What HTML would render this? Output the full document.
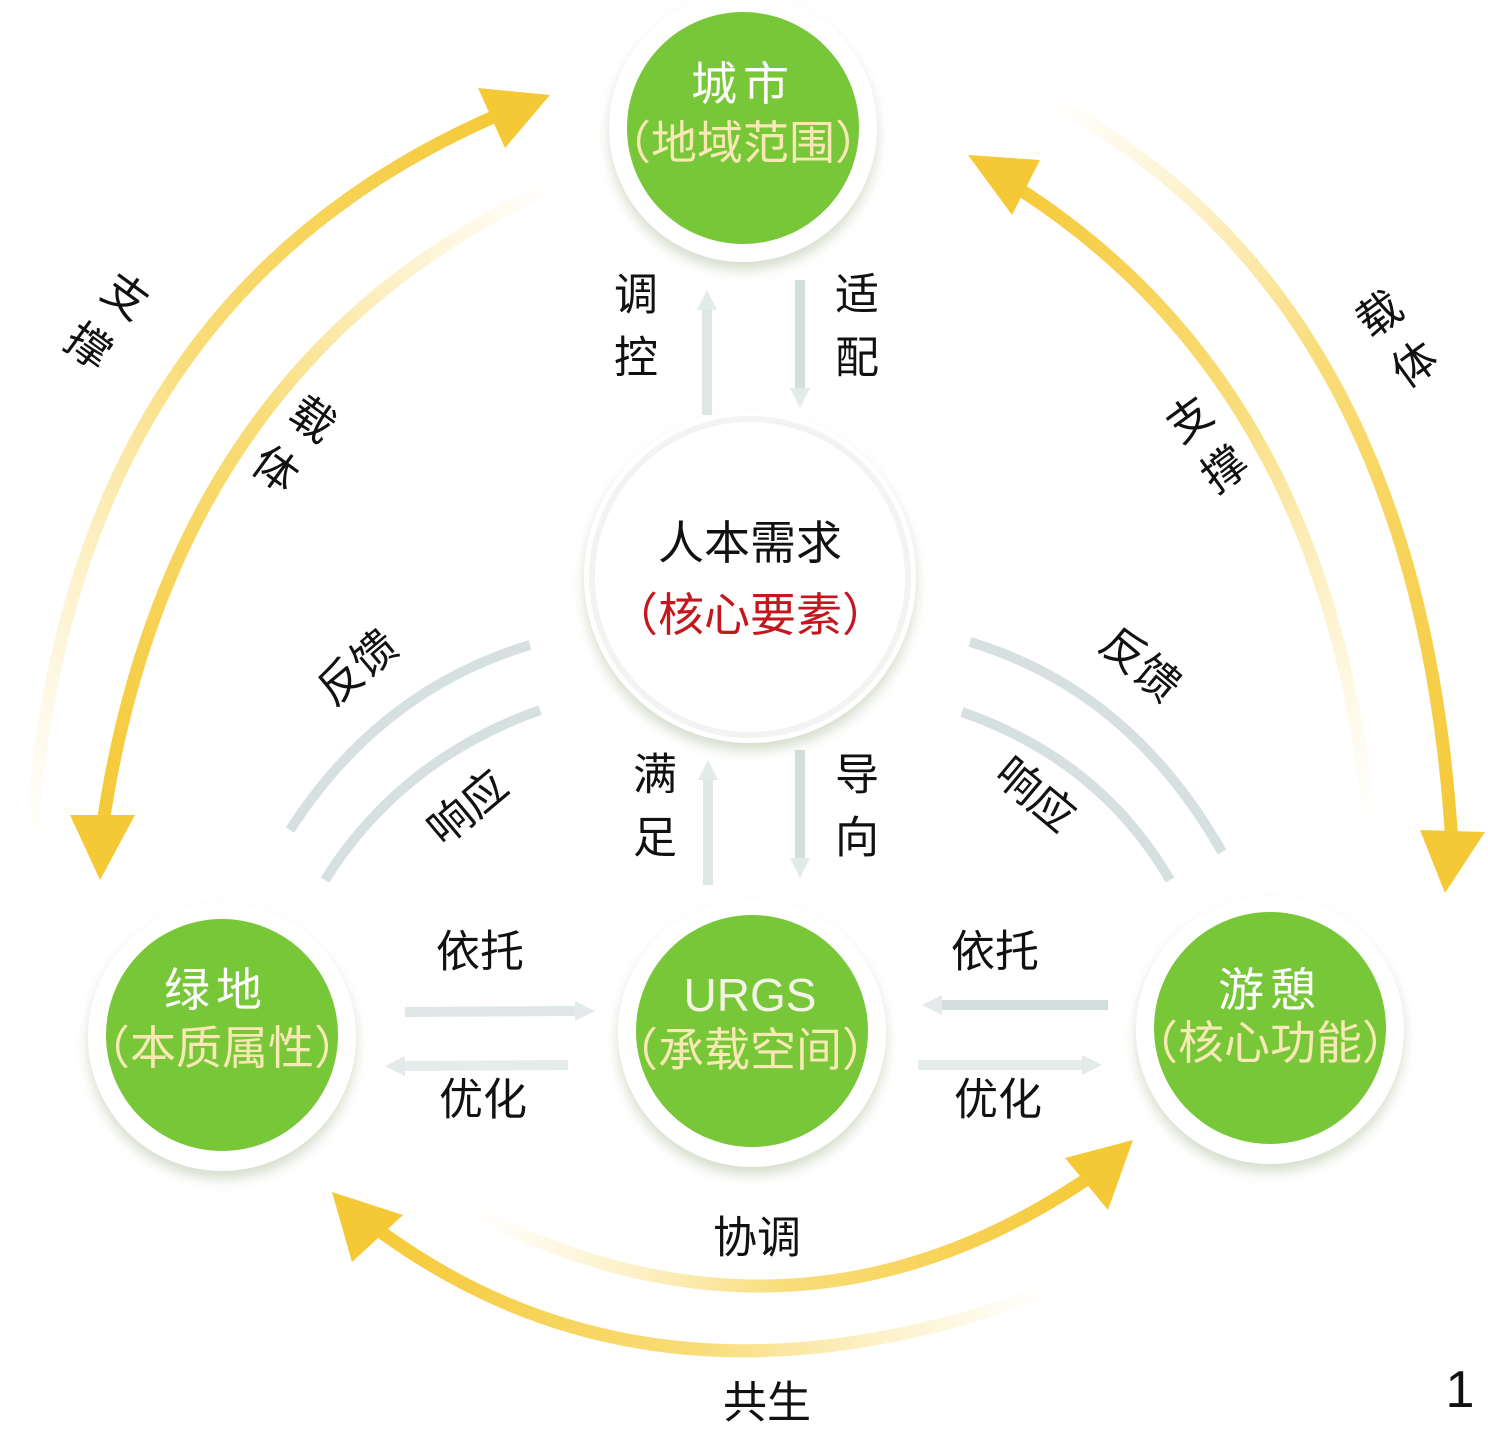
<!DOCTYPE html>
<html><head><meta charset="utf-8"><style>
html,body{margin:0;padding:0;background:#fff}
svg{display:block}
text{font-family:"Liberation Sans","Noto Sans CJK SC",sans-serif}
</style></head><body>
<svg width="1488" height="1434" viewBox="0 0 1488 1434" xmlns="http://www.w3.org/2000/svg">
<defs>
<radialGradient id="ring" cx="50%" cy="50%" r="50%">
<stop offset="0.85" stop-color="#fff"/><stop offset="0.93" stop-color="#eef2ea"/><stop offset="1" stop-color="#fff" stop-opacity="0"/>
</radialGradient>
<linearGradient id="yL1" x1="0" y1="1" x2="1" y2="0"><stop offset="0" stop-color="#fbe9a8" stop-opacity="0"/><stop offset="0.5" stop-color="#f9dd7a"/><stop offset="1" stop-color="#f5c936"/></linearGradient>
<linearGradient id="yL2" x1="1" y1="0" x2="0" y2="1"><stop offset="0" stop-color="#fbe9a8" stop-opacity="0"/><stop offset="0.5" stop-color="#f9dd7a"/><stop offset="1" stop-color="#f5c936"/></linearGradient>
<linearGradient id="yR1" x1="0" y1="0" x2="1" y2="1"><stop offset="0" stop-color="#fbe9a8" stop-opacity="0"/><stop offset="0.5" stop-color="#f9dd7a"/><stop offset="1" stop-color="#f5c936"/></linearGradient>
<linearGradient id="yR2" x1="1" y1="1" x2="0" y2="0"><stop offset="0" stop-color="#fbe9a8" stop-opacity="0"/><stop offset="0.5" stop-color="#f9dd7a"/><stop offset="1" stop-color="#f5c936"/></linearGradient>
<linearGradient id="yB1" x1="0" y1="0" x2="1" y2="0"><stop offset="0" stop-color="#fbe9a8" stop-opacity="0"/><stop offset="0.5" stop-color="#f9dd7a"/><stop offset="1" stop-color="#f5c936"/></linearGradient>
<linearGradient id="yB2" x1="1" y1="0" x2="0" y2="0"><stop offset="0" stop-color="#fbe9a8" stop-opacity="0"/><stop offset="0.5" stop-color="#f9dd7a"/><stop offset="1" stop-color="#f5c936"/></linearGradient>
<filter id="sh" x="-20%" y="-20%" width="140%" height="150%"><feDropShadow dx="0" dy="8" stdDeviation="6" flood-color="#8aa070" flood-opacity="0.35"/></filter>
</defs>

<!-- yellow arcs -->
<g fill="none" stroke-width="13" stroke-linecap="round">
<path d="M30 860 Q60 300 505 112" stroke="url(#yL1)"/>
<path d="M555 185 Q170 360 102 830" stroke="url(#yL2)"/>
<path d="M1050 100 Q1420 300 1452 845" stroke="url(#yR1)"/>
<path d="M1370 830 Q1330 380 1005 180" stroke="url(#yR2)"/>
<path d="M470 1210 Q800 1380 1100 1170" stroke="url(#yB1)"/>
<path d="M1050 1290 Q650 1440 365 1220" stroke="url(#yB2)"/>
</g>
<g fill="#f5c936">
<polygon points="550,95 478,88 505,148"/>
<polygon points="100,880 70,815 135,815"/>
<polygon points="968,155 1040,160 1012,215"/>
<polygon points="1445,893 1420,830 1485,832"/>
<polygon points="1133,1140 1065,1158 1108,1210"/>
<polygon points="332,1192 352,1262 403,1215"/>
</g>

<!-- grey arrows -->
<g fill="none" stroke="#d3dede" stroke-width="10">
<line x1="707" y1="415" x2="707" y2="305" stroke="#dfe7e6"/>
<line x1="800" y1="280" x2="800" y2="390"/>
<line x1="708" y1="885" x2="708" y2="775" stroke="#dfe7e6"/>
<line x1="800" y1="750" x2="800" y2="860"/>
<line x1="405" y1="1012" x2="575" y2="1011" stroke="#dfe7e6"/>
<line x1="568" y1="1065" x2="400" y2="1066" stroke="#e6eceb"/>
<line x1="1108" y1="1005" x2="940" y2="1005"/>
<line x1="918" y1="1065" x2="1085" y2="1065" stroke="#e6eceb"/>
<path d="M290 830 Q380 690 530 645" stroke="#d6e0e0"/>
<path d="M540 710 Q400 760 325 880" stroke="#d6e0e0"/>
<path d="M1222 852 Q1130 690 970 642" stroke="#d6e0e0"/>
<path d="M962 712 Q1100 760 1170 880" stroke="#d6e0e0"/>
</g>
<g fill="#e3eaea">
<polygon points="707,290 697,310 717,310"/>
<polygon points="800,408 790,388 810,388"/>
<polygon points="708,760 698,780 718,780"/>
<polygon points="800,878 790,858 810,858"/>
<polygon points="595,1011 575,1001 575,1021"/>
<polygon points="385,1066 405,1056 405,1076"/>
<polygon points="922,1005 942,995 942,1015"/>
<polygon points="1102,1065 1082,1055 1082,1075"/>
</g>

<!-- circles -->
<g filter="url(#sh)">
<circle cx="743" cy="128" r="134" fill="#fff"/>
<circle cx="750" cy="577" r="166" fill="#fff"/>
<circle cx="222" cy="1037" r="134" fill="#fff"/>
<circle cx="752" cy="1033" r="134" fill="#fff"/>
<circle cx="1270" cy="1030" r="134" fill="#fff"/>
</g>
<circle cx="750" cy="577" r="158" fill="none" stroke="#f1f4f0" stroke-width="6"/>
<g fill="#77c739">
<circle cx="743" cy="128" r="116"/>
<circle cx="222" cy="1035" r="116"/>
<circle cx="752" cy="1031" r="116"/>
<circle cx="1270" cy="1028" r="116"/>
</g>

<g font-size="46" text-anchor="middle" dominant-baseline="central">
<text x="743" y="84" fill="#fff" letter-spacing="6">城市</text>
<text x="743" y="143" fill="#f7e8b4">（地域范围）</text>
<text x="750" y="543" fill="#111">人本需求</text>
<text x="750" y="615" fill="#c4161c">（核心要素）</text>
<text x="216" y="990" fill="#fff" letter-spacing="6">绿地</text>
<text x="222" y="1048" fill="#f7e8b4">（本质属性）</text>
<text x="750" y="995" fill="#f4f4e4">URGS</text>
<text x="750" y="1050" fill="#f7e8b4">（承载空间）</text>
<text x="1270" y="990" fill="#fff" letter-spacing="6">游憩</text>
<text x="1270" y="1043" fill="#f7e8b4">（核心功能）</text>
</g>

<g font-size="44" fill="#111" text-anchor="middle" dominant-baseline="central">
<text x="636" y="295">调</text><text x="636" y="358">控</text>
<text x="857" y="295">适</text><text x="857" y="358">配</text>
<text x="655" y="775">满</text><text x="655" y="838">足</text>
<text x="857" y="775">导</text><text x="857" y="838">向</text>
<text x="480" y="952">依托</text>
<text x="483" y="1100">优化</text>
<text x="995" y="952">依托</text>
<text x="998" y="1100">优化</text>
<text x="757" y="1238">协调</text>
<text x="767" y="1403">共生</text>
<text x="1460" y="1390" font-size="52">1</text>
<text transform="translate(125,297) rotate(36)">支</text>
<text transform="translate(88,347) rotate(36)">撑</text>
<text transform="translate(312,420) rotate(36)">载</text>
<text transform="translate(275,470) rotate(36)">体</text>
<text transform="translate(1190,420) rotate(-36)">支</text>
<text transform="translate(1225,470) rotate(-36)">撑</text>
<text transform="translate(1380,315) rotate(-36)">载</text>
<text transform="translate(1415,365) rotate(-36)">体</text>
<text transform="translate(358,668) rotate(-40)">反馈</text>
<text transform="translate(468,808) rotate(-40)">响应</text>
<text transform="translate(1140,665) rotate(40)">反馈</text>
<text transform="translate(1035,795) rotate(40)">响应</text>
</g>
</svg>
</body></html>
